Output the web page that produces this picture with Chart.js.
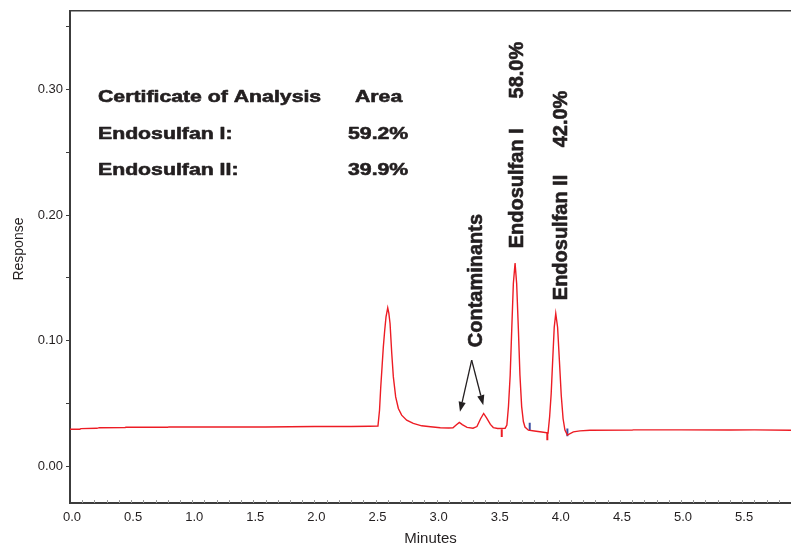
<!DOCTYPE html>
<html>
<head>
<meta charset="utf-8">
<title>Endosulfan chromatogram</title>
<script src="https://cdn.jsdelivr.net/npm/chart.js@4.4.1/dist/chart.umd.min.js"></script>
<style>
  html, body { margin: 0; padding: 0; background: #fff; }
  #wrap { width: 791px; height: 546px; position: relative; }
</style>
</head>
<body>
<div id="wrap"><canvas id="chrom"></canvas></div>
<script>
// retention time (minutes) and detector response
const times = [
    0.00, 0.08, 0.09, 0.22, 0.24, 0.45, 0.46, 0.80, 0.81, 1.20, 1.60, 2.00, 2.30, 2.45, 2.52,
    2.533, 2.543, 2.554, 2.564, 2.575, 2.586, 2.600, 2.609, 2.619, 2.633, 2.646, 2.665, 2.687,
    2.714, 2.755, 2.809, 2.878, 2.950, 3.030, 3.100,
    3.134, 3.160, 3.186, 3.210, 3.249, 3.298, 3.330, 3.360, 3.385, 3.410, 3.440, 3.464, 3.500,
    3.561, 3.575, 3.588, 3.602, 3.615, 3.628, 3.642, 3.655, 3.669, 3.682, 3.696, 3.710, 3.723,
    3.751, 3.800, 3.860,
    3.912, 3.925, 3.9375, 3.950, 3.9625, 3.975, 3.990, 4.005, 4.020, 4.035, 4.050, 4.070,
    4.119, 4.173, 4.255, 4.60, 4.61, 5.00, 5.40, 5.60, 5.90
];
const response = [
    0.0297, 0.0297, 0.0302, 0.0304, 0.0309, 0.0311, 0.0313, 0.0313, 0.0315, 0.0314, 0.0315, 0.0318, 0.0319, 0.0320, 0.0321,
    0.0450, 0.0634, 0.0800, 0.0952, 0.1080, 0.1190, 0.1262, 0.1220, 0.1138, 0.0899, 0.0713, 0.0554, 0.0462,
    0.0409, 0.0369, 0.0343, 0.0324, 0.0316, 0.0308, 0.0306,
    0.0308, 0.0330, 0.0351, 0.0333, 0.0311, 0.0305, 0.0318, 0.0380, 0.0422, 0.0385, 0.0335, 0.0310, 0.0303,
    0.0305, 0.0330, 0.0477, 0.0726, 0.1095, 0.1456, 0.1619, 0.1456, 0.1095, 0.0726, 0.0477, 0.0358, 0.0314,
    0.0289, 0.0283, 0.0275,
    0.0268, 0.0398, 0.0579, 0.0847, 0.1108, 0.1217, 0.1108, 0.0840, 0.0565, 0.0380, 0.0290, 0.0250,
    0.0276, 0.0284, 0.0289, 0.0290, 0.0292, 0.0292, 0.0291, 0.0292, 0.0289
];

// integration start / end marks
const markTimes = [3.533, 3.762, 3.906, 4.070];
const markLevels = [0.0266, 0.0319, 0.0239, 0.0272];
const markColors = ['#ed1c24', '#3b4ea3', '#ed1c24', '#3b4ea3'];

const xTickValues = [0, 0.5, 1.0, 1.5, 2.0, 2.5, 3.0, 3.5, 4.0, 4.5, 5.0, 5.5];
const xTickLabels = ['0.0', '0.5', '1.0', '1.5', '2.0', '2.5', '3.0', '3.5', '4.0', '4.5', '5.0', '5.5'];
const yTickValues = [0, 0.05, 0.10, 0.15, 0.20, 0.25, 0.30, 0.35];
const yTickLabels = ['0.00', '', '0.10', '', '0.20', '', '0.30', ''];

const ink = '#231f20';
const axisColor = '#3c3c3c';
const font = '"Liberation Sans", Arial, sans-serif';

// certificate table and peak labels, placed in data units
const certRows = [
    { left: 'Certificate of Analysis', right: 'Area', v: 0.2899 },
    { left: 'Endosulfan I:', right: '59.2%', v: 0.2608 },
    { left: 'Endosulfan II:', right: '39.9%', v: 0.2316 }
];
const peakLabels = [
    { text: 'Contaminants', t: 3.372, v: 0.0949 },
    { text: 'Endosulfan I', t: 3.707, v: 0.1736 },
    { text: '58.0%', t: 3.707, v: 0.2928 },
    { text: 'Endosulfan II', t: 4.063, v: 0.1323 },
    { text: '42.0%', t: 4.063, v: 0.2539 }
];
const arrowFrom = { t: 3.287, v: 0.0846 };
const arrowTips = [{ t: 3.191, v: 0.0435 }, { t: 3.382, v: 0.0488 }];

// heavy text: fill plus a thin stroke, like the original print
function heavyText(ctx, str, x, y) {
    ctx.fillText(str, x, y);
    ctx.strokeText(str, x, y);
}

function wideText(ctx, str, x, y, align) {
    ctx.save();
    ctx.translate(x, y);
    ctx.scale(1.25, 1);
    ctx.textAlign = align;
    heavyText(ctx, str, 0, 0);
    ctx.restore();
}

function arrow(ctx, x0, y0, x1, y1) {
    const ang = Math.atan2(y1 - y0, x1 - x0);
    const len = 10, half = 3.6;
    const bx = x1 - Math.cos(ang) * len, by = y1 - Math.sin(ang) * len;
    ctx.beginPath();
    ctx.moveTo(x0, y0);
    ctx.lineTo(bx, by);
    ctx.stroke();
    ctx.beginPath();
    ctx.moveTo(x1, y1);
    ctx.lineTo(bx + Math.sin(ang) * half, by - Math.cos(ang) * half);
    ctx.lineTo(bx - Math.sin(ang) * half, by + Math.cos(ang) * half);
    ctx.closePath();
    ctx.fill();
}

const notes = {
    id: 'notes',
    afterDatasetsDraw(chart) {
        const { ctx, chartArea: a, scales: { x, y } } = chart;
        ctx.save();

        // top frame line
        ctx.strokeStyle = axisColor;
        ctx.lineWidth = 1.5;
        ctx.beginPath();
        ctx.moveTo(a.left, a.top);
        ctx.lineTo(a.right, a.top);
        ctx.stroke();

        // faint minor ticks along the time axis
        ctx.strokeStyle = '#9a9a9a';
        ctx.lineWidth = 1;
        for (let t = 0.1; t < 5.9; t += 0.1) {
            const px = Math.round(x.getPixelForValue(t)) + 0.5;
            ctx.beginPath();
            ctx.moveTo(px, a.bottom - 3);
            ctx.lineTo(px, a.bottom);
            ctx.stroke();
        }

        ctx.fillStyle = ink;
        ctx.textBaseline = 'alphabetic';

        // y axis title
        ctx.save();
        ctx.font = '14px ' + font;
        ctx.translate(19, y.getPixelForValue(0.173));
        ctx.rotate(-Math.PI / 2);
        ctx.textAlign = 'center';
        ctx.textBaseline = 'middle';
        ctx.fillText('Response', 0, 0);
        ctx.restore();

        ctx.strokeStyle = ink;
        ctx.lineWidth = 0.6;
        ctx.lineJoin = 'round';

        // certificate table
        ctx.font = 'bold 17px ' + font;
        certRows.forEach((r, i) => {
            const py = y.getPixelForValue(r.v);
            wideText(ctx, r.left, x.getPixelForValue(0.229), py, 'left');
            if (i === 0) wideText(ctx, r.right, x.getPixelForValue(2.332), py, 'left');
            else wideText(ctx, r.right, x.getPixelForValue(2.768), py, 'right');
        });

        // rotated peak labels
        ctx.font = 'bold 20px ' + font;
        peakLabels.forEach(l => {
            ctx.save();
            ctx.translate(x.getPixelForValue(l.t), y.getPixelForValue(l.v));
            ctx.rotate(-Math.PI / 2);
            ctx.textAlign = 'left';
            heavyText(ctx, l.text, 0, 0);
            ctx.restore();
        });

        // arrows to the contaminant peaks
        ctx.lineWidth = 1.3;
        const fx = x.getPixelForValue(arrowFrom.t), fy = y.getPixelForValue(arrowFrom.v);
        arrowTips.forEach(p => arrow(ctx, fx, fy, x.getPixelForValue(p.t), y.getPixelForValue(p.v)));

        ctx.restore();
    }
};

new Chart(document.getElementById('chrom').getContext('2d'), {
    type: 'line',
    data: {
        datasets: [{
            label: 'Response',
            data: times.map((t, i) => ({ x: t, y: response[i] })),
            borderColor: '#ed1c24',
            borderWidth: 1.4,
            pointRadius: 0,
            tension: 0,
            fill: false
        }, {
            label: 'Marks',
            data: markTimes.map((t, i) => ({ x: t, y: markLevels[i] })),
            showLine: false,
            pointStyle: 'line',
            rotation: 90,
            pointRadius: 3.8,
            pointBorderWidth: 2,
            pointBorderColor: markColors,
            pointBackgroundColor: markColors
        }]
    },
    options: {
        responsive: true,
        maintainAspectRatio: false,
        animation: false,
        layout: { autoPadding: false, padding: { top: 10, right: 0, left: 0, bottom: 0 } },
        plugins: {
            legend: { display: false },
            tooltip: { enabled: false }
        },
        scales: {
            x: {
                type: 'linear',
                min: 0,
                max: 5.9,
                afterBuildTicks: (axis) => { axis.ticks = xTickValues.map(v => ({ value: v })); },
                afterFit: (s) => { s.height = 43; s.paddingLeft = 0; s.paddingRight = 0; },
                border: { display: true, color: axisColor, width: 2 },
                grid: { drawOnChartArea: false, drawTicks: false },
                ticks: {
                    autoSkip: false,
                    maxRotation: 0,
                    padding: 7,
                    labelOffset: 2,
                    color: ink,
                    font: { family: font, size: 13 },
                    callback: (v, i) => xTickLabels[i]
                },
                title: {
                    display: true,
                    text: 'Minutes',
                    color: ink,
                    font: { family: font, size: 15, lineHeight: 1 },
                    padding: { top: 0, bottom: 0 }
                }
            },
            y: {
                min: -0.029,
                max: 0.3625,
                afterBuildTicks: (axis) => { axis.ticks = yTickValues.map(v => ({ value: v })); },
                afterFit: (s) => { s.width = 70; },
                border: { display: true, color: axisColor, width: 2 },
                grid: { drawOnChartArea: false, drawTicks: true, tickLength: 4, color: axisColor, tickWidth: 1 },
                ticks: {
                    padding: 3,
                    color: ink,
                    font: { family: font, size: 13 },
                    callback: (v, i) => yTickLabels[i]
                }
            }
        }
    },
    plugins: [notes]
});
</script>
</body>
</html>
